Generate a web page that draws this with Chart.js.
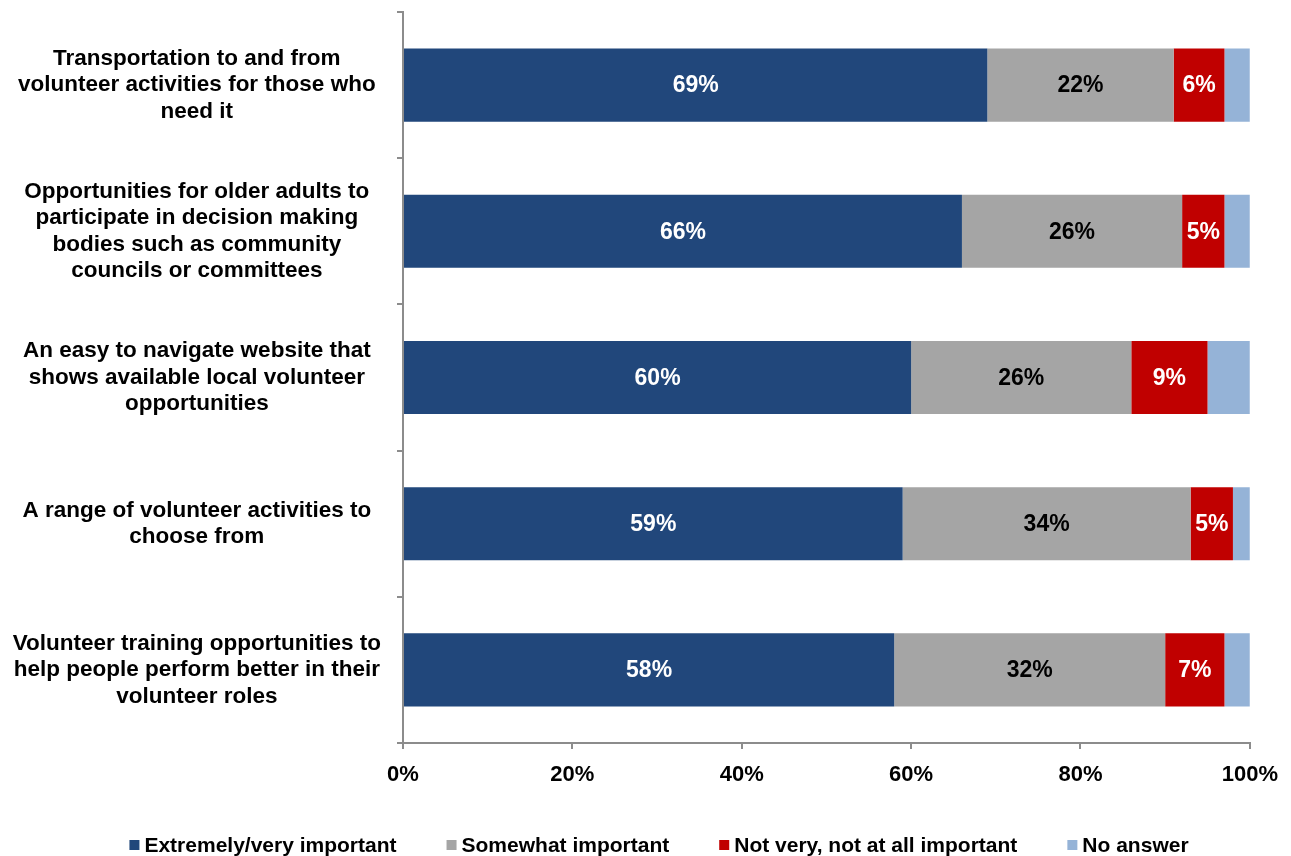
<!DOCTYPE html>
<html>
<head>
<meta charset="utf-8">
<script src="https://cdn.jsdelivr.net/npm/chart.js@4"></script>
<style>
  html, body { margin: 0; padding: 0; background: #fff; }
  #wrap { width: 1291px; height: 856px; }
</style>
</head>
<body>
<div id="wrap"><canvas id="chart" width="1291" height="856"></canvas></div>
<script>
// categories (multi-line labels as shown on the axis)
var categories = [
  ['Transportation to and from', 'volunteer activities for those who', 'need it'],
  ['Opportunities for older adults to', 'participate in decision making', 'bodies such as community', 'councils or committees'],
  ['An easy to navigate website that', 'shows available local volunteer', 'opportunities'],
  ['A range of volunteer activities to', 'choose from'],
  ['Volunteer training opportunities to', 'help people perform better in their', 'volunteer roles']
];

var seriesNames = ['Extremely/very important', 'Somewhat important', 'Not very, not at all important', 'No answer'];

var extremelyImportant = [69, 66, 60, 59, 58];
var somewhatImportant = [22, 26, 26, 34, 32];
var notImportant = [6, 5, 9, 5, 7];
var noAnswer = [3, 3, 5, 2, 3];

var xTicks = [0, 20, 40, 60, 80, 100];

var colors = ['#21477B', '#A5A5A5', '#C00000', '#95B3D7'];
var labelColors = ['#ffffff', '#000000', '#ffffff', null];

var FONT = "Arial, 'Liberation Sans', sans-serif";
var axisColor = '#8C8C8C';

// draws the % values inside the bars
var valueLabels = {
  id: 'valueLabels',
  afterDatasetsDraw: function(chart) {
    var ctx = chart.ctx;
    ctx.save();
    ctx.font = 'bold 23px ' + FONT;
    ctx.textAlign = 'center';
    ctx.textBaseline = 'middle';
    chart.data.datasets.forEach(function(ds, di) {
      if (!labelColors[di]) return;
      var meta = chart.getDatasetMeta(di);
      meta.data.forEach(function(bar, i) {
        var p = bar.getProps(['x', 'y', 'base'], true);
        ctx.fillStyle = labelColors[di];
        ctx.fillText(ds.data[i] + '%', (p.x + p.base) / 2, p.y + 1);
      });
    });
    ctx.restore();
  }
};

// legend along the bottom, small square + label
var bottomLegend = {
  id: 'bottomLegend',
  afterDraw: function(chart) {
    var ctx = chart.ctx;
    var box = 10, gap = 5, spacing = 50;
    ctx.save();
    ctx.font = 'bold 21px ' + FONT;
    ctx.textBaseline = 'middle';
    ctx.textAlign = 'left';
    var items = chart.data.datasets.map(function(ds) {
      return { text: ds.label, color: ds.backgroundColor, w: box + gap + ctx.measureText(ds.label).width };
    });
    var total = items.reduce(function(s, it) { return s + it.w; }, 0) + spacing * (items.length - 1);
    var x = 659 - total / 2;
    var y = 845;
    items.forEach(function(it) {
      ctx.fillStyle = it.color;
      ctx.fillRect(x, y - box / 2, box, box);
      ctx.fillStyle = '#000';
      ctx.fillText(it.text, x + box + gap, y + 1);
      x += it.w + spacing;
    });
    ctx.restore();
  }
};

var datasets = [extremelyImportant, somewhatImportant, notImportant, noAnswer].map(function(values, i) {
  return {
    label: seriesNames[i],
    data: values,
    backgroundColor: colors[i],
    borderWidth: 0,
    categoryPercentage: 1,
    barPercentage: 0.5
  };
});

var ctx = document.getElementById('chart').getContext('2d');
var chart = new Chart(ctx, {
  type: 'bar',
  data: {
    labels: categories,
    datasets: datasets
  },
  plugins: [valueLabels, bottomLegend],
  options: {
    indexAxis: 'y',
    responsive: false,
    animation: false,
    layout: {
      padding: { top: 12, right: 39, left: 0, bottom: 74 }
    },
    scales: {
      x: {
        stacked: true,
        min: 0,
        max: 100,
        afterBuildTicks: function(scale) {
          scale.ticks = xTicks.map(function(v) { return { value: v }; });
        },
        afterFit: function(scale) { scale.height = 39; },
        grid: { drawOnChartArea: false, drawTicks: true, tickLength: 6, color: axisColor, lineWidth: 2 },
        border: { display: true, color: axisColor, width: 2 },
        ticks: {
          padding: 13,
          color: '#000',
          font: { family: FONT, size: 22, weight: 'bold' },
          callback: function(v) { return v + '%'; }
        }
      },
      y: {
        stacked: true,
        afterFit: function(scale) {
          scale.width = 403;
          // multi-line labels should not push the plot area down
          scale.paddingTop = 0;
          scale.paddingBottom = 0;
        },
        grid: { drawOnChartArea: false, drawTicks: true, tickLength: 6, color: axisColor, lineWidth: 2, offset: true },
        border: { display: true, color: axisColor, width: 2 },
        ticks: {
          padding: 16,
          crossAlign: 'center',
          color: '#000',
          font: { family: FONT, size: 22.5, weight: 'bold', lineHeight: 1.18 }
        }
      }
    },
    plugins: {
      legend: { display: false },
      tooltip: { enabled: false }
    }
  }
});
</script>
</body>
</html>
